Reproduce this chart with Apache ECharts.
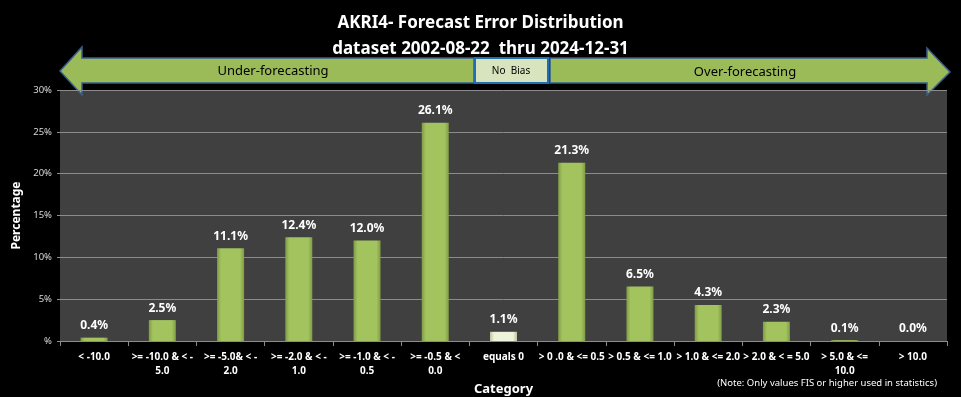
<!DOCTYPE html>
<html>
<head>
<meta charset="utf-8">
<script src="https://cdn.jsdelivr.net/npm/echarts@6/dist/echarts.min.js"></script>
<style>
  html, body { margin: 0; padding: 0; background: #000; }
  #chart { width: 961px; height: 397px; }
</style>
</head>
<body>
<div id="chart"></div>
<script>
// bins of the forecast error
const categories = [
  '< -10.0', '>= -10.0 & < -\n5.0', '>= -5.0& < -\n2.0', '>= -2.0 & < -\n1.0',
  '>= -1.0 & < -\n0.5', '>= -0.5 & <\n0.0', 'equals 0', '> 0 .0 & <= 0.5',
  '> 0.5 & <= 1.0', '> 1.0 & <= 2.0', '> 2.0 & < = 5.0', '> 5.0 & <=\n10.0', '> 10.0'
];
const percentages = [0.4, 2.5, 11.1, 12.4, 12.0, 26.1, 1.1, 21.3, 6.5, 4.3, 2.3, 0.1, 0.0];
const zeroIndex = 6; // "equals 0" drawn pale

const chart = echarts.init(document.getElementById('chart'));

const greenBar = new echarts.graphic.LinearGradient(0, 0, 1, 0, [
  { offset: 0, color: '#7f9c44' },
  { offset: 0.15, color: '#a3c35f' },
  { offset: 0.85, color: '#a3c35f' },
  { offset: 1, color: '#7f9c44' }
]);
const paleBar = new echarts.graphic.LinearGradient(0, 0, 1, 0, [
  { offset: 0, color: '#b9c79a' },
  { offset: 0.15, color: '#eef4dc' },
  { offset: 0.85, color: '#eef4dc' },
  { offset: 1, color: '#b9c79a' }
]);

const barData = percentages.map((v, i) => ({
  value: v,
  itemStyle: { color: i === zeroIndex ? paleBar : greenBar }
}));

chart.setOption({
  backgroundColor: '#000',
  animation: false,
  title: {
    text: 'AKRI4- Forecast Error Distribution\ndataset 2002-08-22  thru 2024-12-31',
    left: 'center',
    top: 5,
    textStyle: {
      color: '#fff', fontSize: 17, fontWeight: 'bold',
      fontFamily: 'Noto Sans', lineHeight: 26
    }
  },
  grid: {
    left: 60, right: 14, top: 90, bottom: 56,
    outerBoundsMode: 'none',
    show: true, backgroundColor: '#404040', borderWidth: 0
  },
  xAxis: {
    type: 'category',
    data: categories,
    name: 'Category',
    nameLocation: 'middle',
    nameGap: 39,
    nameTextStyle: { color: '#fff', fontSize: 13, fontWeight: 'bold', fontFamily: 'Noto Sans' },
    axisLine: { lineStyle: { color: '#8c8c8c' } },
    axisTick: { show: true, length: 5, lineStyle: { color: '#8c8c8c' } },
    axisLabel: {
      interval: 0, color: '#fff', fontSize: 10, fontWeight: 'bold',
      fontFamily: 'Noto Sans', lineHeight: 14, margin: 9
    }
  },
  yAxis: {
    type: 'value',
    min: 0, max: 30, interval: 5,
    name: 'Percentage',
    nameLocation: 'middle',
    nameGap: 35,
    nameTextStyle: { color: '#fff', fontSize: 12, fontWeight: 'bold', fontFamily: 'Noto Sans' },
    axisLine: { show: false },
    axisTick: { show: true, length: 3, lineStyle: { color: '#8c8c8c' } },
    axisLabel: {
      color: '#d9d9d9', fontSize: 9.5, fontFamily: 'Noto Sans', margin: 8,
      formatter: v => (v === 0 ? '%' : v + '%')
    },
    splitLine: { lineStyle: { color: '#8c8c8c', width: 1 } }
  },
  series: [{
    type: 'bar',
    data: barData,
    barWidth: 27,
    label: {
      show: true, position: 'top', distance: 6,
      color: '#fff', fontSize: 12, fontWeight: 'bold', fontFamily: 'Noto Sans',
      formatter: p => p.value.toFixed(1) + '%'
    }
  }],
  graphic: [
    {
      type: 'polygon',
      shape: { points: [[60, 71], [82, 47], [82, 58], [474, 58], [474, 83], [82, 83], [82, 95]] },
      style: { fill: '#9bbb59', stroke: '#385d8a', lineWidth: 1.5 }
    },
    {
      type: 'polygon',
      shape: { points: [[550, 58], [927, 58], [927, 48], [950, 72], [927, 95], [927, 83], [550, 83]] },
      style: { fill: '#9bbb59', stroke: '#385d8a', lineWidth: 1.5 }
    },
    {
      type: 'rect',
      shape: { x: 475, y: 58, width: 73, height: 25 },
      style: { fill: '#d7e4bd', stroke: '#1f6fb5', lineWidth: 2 }
    },
    {
      type: 'text', x: 273, y: 71,
      style: {
        text: 'Under-forecasting', fill: '#000', fontSize: 13, fontFamily: 'Noto Sans',
        align: 'center', verticalAlign: 'middle'
      }
    },
    {
      type: 'text', x: 745, y: 72,
      style: {
        text: 'Over-forecasting', fill: '#000', fontSize: 13, fontFamily: 'Noto Sans',
        align: 'center', verticalAlign: 'middle'
      }
    },
    {
      type: 'text', x: 511, y: 71,
      style: {
        text: 'No  Bias', fill: '#000', fontSize: 10, fontFamily: 'Noto Sans',
        align: 'center', verticalAlign: 'middle'
      }
    },
    {
      type: 'text', x: 937, y: 383,
      style: {
        text: '(Note: Only values FIS or higher used in statistics)', fill: '#fff',
        fontSize: 9.5, fontFamily: 'Noto Sans', align: 'right', verticalAlign: 'middle'
      }
    }
  ]
});
</script>
</body>
</html>
